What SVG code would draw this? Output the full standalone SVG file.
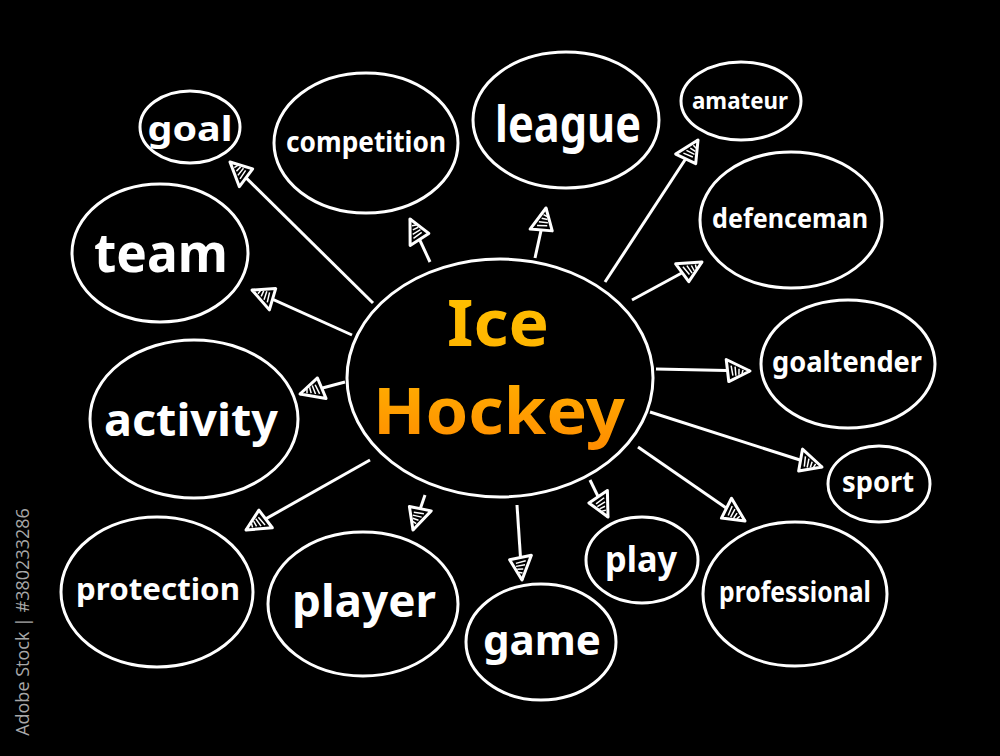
<svg xmlns="http://www.w3.org/2000/svg" width="1000" height="756" viewBox="0 0 1000 756">
<defs>
<style>
.n{fill:#000;stroke:#fff;stroke-width:3}
.t{fill:#fff;font-family:"Noto Sans","DejaVu Sans",sans-serif;font-weight:bold;text-anchor:middle}
.h{font-family:"Noto Sans",sans-serif;font-weight:bold;font-size:64px;fill:url(#og);text-anchor:middle}
.c line{stroke:#fff;stroke-width:3;marker-end:url(#ah)}
</style>
<linearGradient id="og" gradientUnits="userSpaceOnUse" x1="500" y1="290" x2="500" y2="455">
<stop offset="0" stop-color="#ffc000"/>
<stop offset="0.5" stop-color="#ffb000"/>
<stop offset="1" stop-color="#ff8a00"/>
</linearGradient>
<marker id="ah" viewBox="0 0 30 30" refX="27" refY="15" markerWidth="10" markerHeight="10" orient="auto" markerUnits="strokeWidth">
<path d="M27,15 L3,4 L6,26 Z" fill="#000" stroke="#fff" stroke-width="3" stroke-linejoin="round"/>
<path d="M8,10 L10,20 M12,11 L13,20 M16,13 L16,19 M20,14 L19,18" stroke="#fff" stroke-width="1.5"/>
</marker>
</defs>
<rect width="1000" height="756" fill="#000"/>
<g class="c" id="connectors">
<line x1="373" y1="303" x2="230" y2="162"/>
<line x1="352" y1="335" x2="252" y2="290"/>
<line x1="345" y1="382" x2="300" y2="394"/>
<line x1="370" y1="460" x2="246" y2="530"/>
<line x1="425" y1="495" x2="413" y2="530"/>
<line x1="517" y1="505" x2="522" y2="580"/>
<line x1="590" y1="480" x2="608" y2="517"/>
<line x1="638" y1="447" x2="745" y2="521"/>
<line x1="650" y1="412" x2="822" y2="467"/>
<line x1="656" y1="369" x2="750" y2="371"/>
<line x1="632" y1="300" x2="702" y2="262"/>
<line x1="605" y1="282" x2="698" y2="140"/>
<line x1="535" y1="258" x2="546" y2="208"/>
<line x1="430" y1="262" x2="410" y2="219"/>
</g>
<g id="center"><ellipse class="n" cx="500" cy="378" rx="153" ry="119" stroke-width="4"/>
<text class="h" x="498" y="346" textLength="102" lengthAdjust="spacingAndGlyphs">Ice</text>
<text class="h" x="499" y="434" textLength="252" lengthAdjust="spacingAndGlyphs">Hockey</text></g>
<g id="goal"><ellipse class="n" cx="190" cy="127" rx="50" ry="36"/><text class="t" x="190" y="141" font-size="34" textLength="85" lengthAdjust="spacingAndGlyphs">goal</text></g>
<g id="competition"><ellipse class="n" cx="366" cy="143" rx="92" ry="70"/><text class="t" x="366" y="152" font-size="28" textLength="160" lengthAdjust="spacingAndGlyphs">competition</text></g>
<g id="league"><ellipse class="n" cx="566" cy="120" rx="93" ry="68"/><text class="t" x="568" y="142" font-size="50" textLength="146" lengthAdjust="spacingAndGlyphs">league</text></g>
<g id="amateur"><ellipse class="n" cx="741" cy="101" rx="60" ry="39"/><text class="t" x="740" y="109" font-size="24" textLength="96" lengthAdjust="spacingAndGlyphs">amateur</text></g>
<g id="defenceman"><ellipse class="n" cx="791" cy="220" rx="91" ry="68"/><text class="t" x="790" y="228" font-size="27" textLength="156" lengthAdjust="spacingAndGlyphs">defenceman</text></g>
<g id="team"><ellipse class="n" cx="160" cy="253" rx="88" ry="69"/><text class="t" x="161" y="272" font-size="54" textLength="134" lengthAdjust="spacingAndGlyphs">team</text></g>
<g id="goaltender"><ellipse class="n" cx="848" cy="364" rx="87" ry="64"/><text class="t" x="847" y="372" font-size="29" textLength="150" lengthAdjust="spacingAndGlyphs">goaltender</text></g>
<g id="activity"><ellipse class="n" cx="194" cy="419" rx="104" ry="79"/><text class="t" x="191" y="436" font-size="44" textLength="174" lengthAdjust="spacingAndGlyphs">activity</text></g>
<g id="sport"><ellipse class="n" cx="879" cy="484" rx="51" ry="38"/><text class="t" x="878" y="492" font-size="28" textLength="72" lengthAdjust="spacingAndGlyphs">sport</text></g>
<g id="protection"><ellipse class="n" cx="157" cy="592" rx="96" ry="75"/><text class="t" x="158" y="600" font-size="30" textLength="164" lengthAdjust="spacingAndGlyphs">protection</text></g>
<g id="player"><ellipse class="n" cx="363" cy="604" rx="95" ry="72"/><text class="t" x="364" y="617" font-size="44" textLength="144" lengthAdjust="spacingAndGlyphs">player</text></g>
<g id="game"><ellipse class="n" cx="541" cy="642" rx="75" ry="58"/><text class="t" x="542" y="655" font-size="42" textLength="118" lengthAdjust="spacingAndGlyphs">game</text></g>
<g id="play"><ellipse class="n" cx="642" cy="560" rx="56" ry="43"/><text class="t" x="641" y="572" font-size="36" textLength="72" lengthAdjust="spacingAndGlyphs">play</text></g>
<g id="professional"><ellipse class="n" cx="795" cy="594" rx="92" ry="72"/><text class="t" x="795" y="602" font-size="28" textLength="152" lengthAdjust="spacingAndGlyphs">professional</text></g>
<text x="29" y="622" transform="rotate(-90 29 622)" font-family="'Open Sans',sans-serif" font-size="18" fill="#a8a8a8" text-anchor="middle">Adobe Stock | #380233286</text>
</svg>
